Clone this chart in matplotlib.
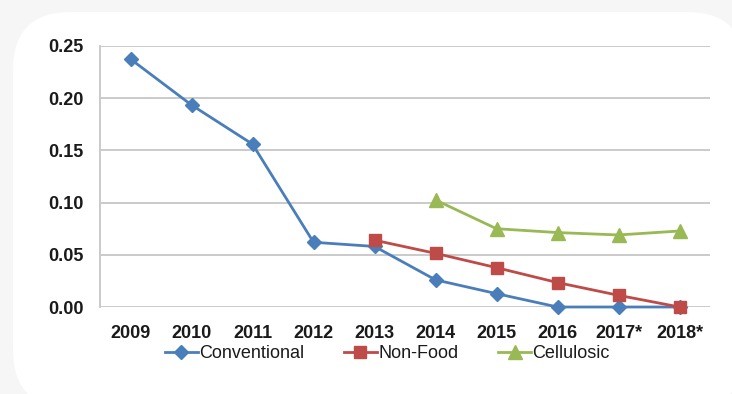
import matplotlib
matplotlib.use("Agg")
import matplotlib.pyplot as plt
from matplotlib.patches import FancyBboxPatch
import numpy as np

years = ["2009", "2010", "2011", "2012", "2013", "2014", "2015", "2016", "2017*", "2018*"]
conventional = [0.2375, 0.1935, 0.156, 0.062, 0.058, 0.026, 0.0128, 0.0, 0.0, 0.0]
non_food = [None, None, None, None, 0.064, 0.0514, 0.0377, 0.0234, 0.0112, 0.0]
cellulosic = [None, None, None, None, None, 0.1025, 0.075, 0.0713, 0.069, 0.0728]
yticks = [0.00, 0.05, 0.10, 0.15, 0.20, 0.25]

plt.rcParams['font.family'] = ['Liberation Sans', 'DejaVu Sans']

W, H = 732, 394
fig = plt.figure(figsize=(W / 100, H / 100), dpi=100)
fig.patch.set_facecolor('#f6f6f6')

# background axes in pixel coordinates for the white rounded panel
bg = fig.add_axes([0, 0, 1, 1], zorder=-5)
bg.set_xlim(0, W)
bg.set_ylim(H, 0)
bg.axis('off')
bg.add_patch(FancyBboxPatch((13, 12), 745 - 13, 408 - 12,
                            boxstyle="round,pad=0,rounding_size=58",
                            facecolor='white', edgecolor='none'))

ax = fig.add_axes([100 / W, 1 - 307 / H, 610 / W, 261 / H], zorder=1)
ax.set_facecolor('none')

x = np.arange(len(years))

def to_arr(v):
    return np.array([np.nan if a is None else a for a in v], dtype=float)

ax.plot(x, to_arr(conventional), color='#4a7ebb', lw=2.0, marker='D', ms=7,
        label='Conventional', zorder=3, clip_on=False)
ax.plot(x, to_arr(non_food), color='#be4b48', lw=2.0, marker='s', ms=8.5,
        label='Non-Food', zorder=4, clip_on=False)
ax.plot(x, to_arr(cellulosic), color='#98b954', lw=2.0, marker='^', ms=9.5,
        label='Cellulosic', zorder=3, clip_on=False)

ax.set_xlim(-0.5, len(years) - 0.5)
ax.set_ylim(0, 0.25)
ax.set_yticks(yticks)
ax.set_yticklabels([f"{t:.2f}" for t in yticks])
ax.set_xticks(x)
ax.set_xticklabels(years)
ax.grid(axis='y', color='#cacaca', lw=1.4, zorder=0)
ax.set_axisbelow(True)
for s in ['top', 'right', 'bottom']:
    ax.spines[s].set_visible(False)
ax.spines['left'].set_color('#cacaca')
ax.spines['left'].set_linewidth(1.4)
ax.tick_params(axis='both', length=0, labelsize=13, colors='#1a1a1a')
ax.tick_params(axis='y', pad=12)
ax.tick_params(axis='x', pad=13)
for lab in ax.get_xticklabels() + ax.get_yticklabels():
    lab.set_fontweight('bold')

fig.legend(loc='center left', bbox_to_anchor=(165 / W, 1 - 354 / H), ncol=3,
           frameon=False, fontsize=13, handlelength=1.8, handletextpad=0.1,
           columnspacing=2.2, borderaxespad=0, borderpad=0, labelcolor='#1a1a1a')

fig.savefig('out.png', dpi=100, facecolor=fig.get_facecolor())
